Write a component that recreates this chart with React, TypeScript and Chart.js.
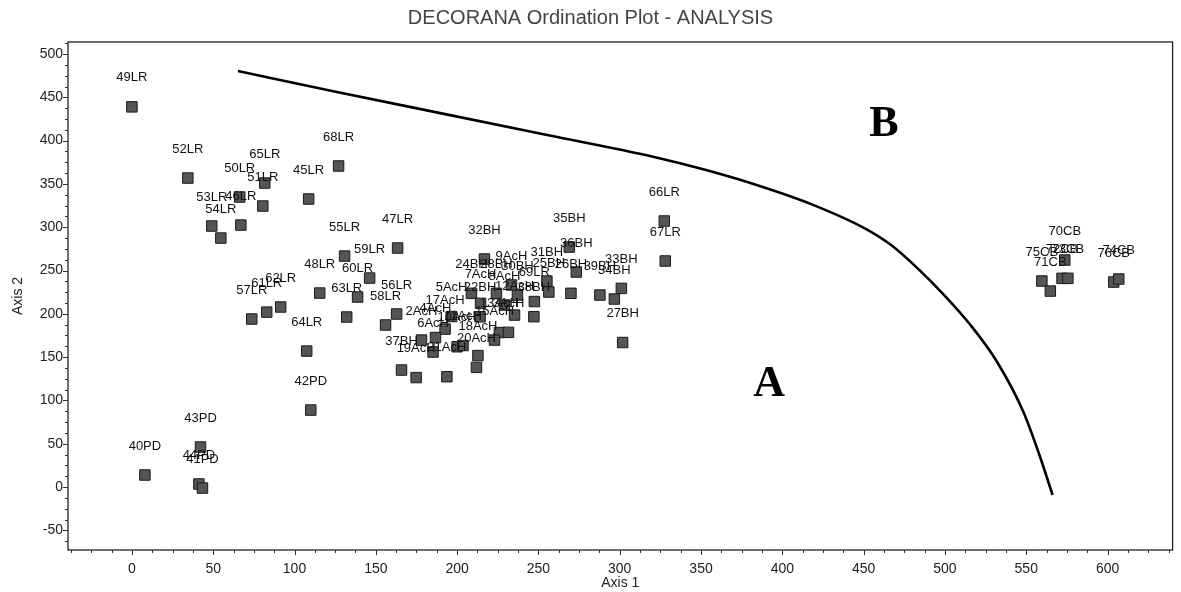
import React, { useEffect, useRef } from "react";
import { Chart, registerables } from "chart.js";

Chart.register(...registerables);

const chartTitle = "DECORANA Ordination Plot - ANALYSIS";
const xAxisTitle = "Axis 1";
const yAxisTitle = "Axis 2";

const sampleNames = [
  "49LR", "52LR", "65LR", "50LR", "51LR", "45LR", "68LR", "53LR", "46LR", "54LR",
  "55LR", "47LR", "59LR", "48LR", "60LR", "63LR", "56LR", "58LR", "62LR", "61LR",
  "57LR", "64LR", "42PD", "40PD", "43PD", "44PD", "41PD", "66LR", "67LR", "35BH",
  "36BH", "31BH", "25BH", "26BH", "39BH", "33BH", "34BH", "27BH", "32BH", "24BH",
  "28BH", "30BH", "9AcH", "69LR", "7AcH", "8AcH", "22BH", "5AcH", "12AcH", "38BH",
  "17AcH", "13AcH", "3AcH", "15AcH", "2AcH", "4AcH", "6AcH", "10AcH", "11AcH", "18AcH",
  "20AcH", "37BH", "19AcH", "21AcH", "70CB", "75CB", "71CB", "72CB", "73CB", "76CB",
  "74CB",
];
const axis1Scores = [
  0, 34.4, 81.7, 66.3, 80.5, 108.7, 127.1, 49.1, 67, 54.7,
  130.8, 163.4, 146.2, 115.5, 138.8, 132.1, 162.8, 156, 91.5, 82.9,
  73.7, 107.5, 110, 8, 42.2, 41.2, 43.4, 327.4, 328, 269,
  273.3, 255.2, 256.4, 270, 287.8, 301, 296.7, 301.8, 216.8, 208.8,
  224.2, 237.1, 233.4, 247.5, 214.4, 229.1, 214.1, 196.6, 235.3, 247.2,
  192.6, 226, 231.6, 223, 178.1, 186.7, 185.2, 200, 203.6, 212.8,
  211.9, 165.8, 174.8, 193.7, 573.7, 559.6, 564.8, 572, 575.6, 603.8,
  606.9,
];
const axis2Scores = [
  439, 356.8, 351, 334.9, 324.5, 332.6, 370.7, 301.4, 302.5, 287.5,
  266.7, 276, 241.3, 224, 219.4, 196.3, 199.8, 187.1, 207.9, 202,
  194, 157, 88.9, 13.9, 46.2, 3.5, -1.2, 307.2, 261, 277.1,
  248.3, 237.9, 225.2, 223.7, 221.7, 229.4, 217.1, 166.9, 263.3, 223.7,
  223.7, 221.7, 233.3, 214.2, 212.1, 210.2, 196.6, 196.9, 198.6, 196.7,
  182.4, 178.4, 178.6, 169.7, 169.7, 172.6, 155.9, 162, 163.4, 151.8,
  138.2, 135.1, 126.4, 127.4, 262.1, 237.9, 226.3, 241, 241, 236.7,
  240.2,
];

const boundaryX = [65.2, 125.3, 190.4, 255.4, 320.5, 353.1, 385.6, 418.1, 450.7, 466.9, 483.2, 499.5, 515.7, 532, 548.2, 558.1, 566.2];
const boundaryY = [480.4, 456.5, 431.5, 406.5, 381.4, 366, 347.9, 326.4, 298.7, 279.4, 252.5, 221.7, 187.1, 144.7, 87, 37, -9.2];

const regionNames = ["A", "B"];
const regionX = [391.9, 462.5];
const regionY = [117.8, 418];

const xMin = -39.3;
const xMax = 640;
const yMin = -72.7;
const yMax = 513.9;
const tickStep = 12.5;
const labelStep = 50;

export default function App() {
  const ref = useRef<HTMLCanvasElement | null>(null);

  useEffect(() => {
    document.body.style.margin = "0";
    const canvas = ref.current;
    if (!canvas) return;

    const makeTicks = (lo: number, hi: number) => {
      const arr: { value: number }[] = [];
      const start = Math.ceil(lo / tickStep) * tickStep;
      for (let v = start; v <= hi + 1e-9; v += tickStep) arr.push({ value: v });
      return arr;
    };

    const decorPlugin = {
      id: "decor",
      afterDraw(chart: any) {
        const ctx = chart.ctx as CanvasRenderingContext2D;
        const a = chart.chartArea;
        const xs = chart.scales.x;
        const ys = chart.scales.y;
        ctx.save();
        // frame
        ctx.strokeStyle = "#222";
        ctx.lineWidth = 1.3;
        ctx.strokeRect(a.left, a.top, a.right - a.left, a.bottom - a.top);
        // tick marks
        ctx.lineWidth = 1;
        ctx.strokeStyle = "#333";
        ctx.beginPath();
        for (const t of xs.ticks) {
          const px = Math.round(xs.getPixelForValue(t.value)) + 0.5;
          const major = Math.abs(t.value % labelStep) < 1e-6;
          ctx.moveTo(px, a.bottom);
          ctx.lineTo(px, a.bottom + (major ? 5 : 3));
        }
        for (const t of ys.ticks) {
          const py = Math.round(ys.getPixelForValue(t.value)) + 0.5;
          const major = Math.abs(t.value % labelStep) < 1e-6;
          ctx.moveTo(a.left, py);
          ctx.lineTo(a.left - (major ? 5 : 3), py);
        }
        ctx.stroke();

        // point labels
        const meta = chart.getDatasetMeta(1);
        ctx.fillStyle = "#111";
        ctx.font = "13px 'Liberation Sans', Arial, sans-serif";
        ctx.textAlign = "center";
        ctx.textBaseline = "middle";
        meta.data.forEach((el: any, i: number) => {
          ctx.fillText(sampleNames[i], el.x, el.y - 29);
        });

        // region letters
        ctx.font = "bold 44px 'Liberation Serif', 'Times New Roman', serif";
        ctx.fillStyle = "#000";
        regionNames.forEach((n, i) => {
          ctx.fillText(n, xs.getPixelForValue(regionX[i]), ys.getPixelForValue(regionY[i]));
        });

        // titles
        ctx.fillStyle = "#444";
        ctx.font = "20px 'Liberation Sans', Arial, sans-serif";
        ctx.fillText(chartTitle, chart.width / 2, 18);
        ctx.fillStyle = "#222";
        ctx.font = "14px 'Liberation Sans', Arial, sans-serif";
        ctx.fillText(xAxisTitle, (a.left + a.right) / 2, 583);
        ctx.translate(18, (a.top + a.bottom) / 2);
        ctx.rotate(-Math.PI / 2);
        ctx.fillText(yAxisTitle, 0, 0);
        ctx.restore();
      },
    };

    const chart = new Chart(canvas, {
      type: "scatter",
      data: {
        datasets: [
          {
            label: "boundary",
            data: boundaryX.map((x, i) => ({ x, y: boundaryY[i] })),
            showLine: true,
            borderColor: "#000",
            borderWidth: 2.6,
            pointRadius: 0,
            cubicInterpolationMode: "monotone",
            fill: false,
          },
          {
            label: "samples",
            data: axis1Scores.map((x, i) => ({ x, y: axis2Scores[i] })),
            pointStyle: "rect",
            pointRadius: 7.4,
            pointBackgroundColor: "#555555",
            pointBorderColor: "#1a1a1a",
            pointBorderWidth: 1,
            showLine: false,
          },
        ],
      },
      options: {
        responsive: false,
        animation: false,
        events: [],
        layout: { padding: { left: 0, right: 7, top: 42, bottom: 0 } },
        plugins: {
          legend: { display: false },
          title: { display: false },
          tooltip: { enabled: false },
        },
        scales: {
          x: {
            type: "linear",
            min: xMin,
            max: xMax,
            grid: { display: false, drawTicks: false },
            border: { display: false },
            afterBuildTicks: (s: any) => {
              s.ticks = makeTicks(xMin, xMax);
            },
            afterFit: (s: any) => {
              s.height = 42;
            },
            ticks: {
              autoSkip: false,
              maxRotation: 0,
              padding: 11,
              color: "#222",
              font: { family: "'Liberation Sans', Arial, sans-serif", size: 14 },
              callback: (v: any) => (Math.abs(Number(v) % labelStep) < 1e-6 ? String(Number(v)) : ""),
            },
          },
          y: {
            type: "linear",
            min: yMin,
            max: yMax,
            grid: { display: false, drawTicks: false },
            border: { display: false },
            afterBuildTicks: (s: any) => {
              s.ticks = makeTicks(yMin, yMax);
            },
            afterFit: (s: any) => {
              s.width = 68;
            },
            ticks: {
              autoSkip: false,
              padding: 5,
              color: "#222",
              font: { family: "'Liberation Sans', Arial, sans-serif", size: 14 },
              callback: (v: any) => (Math.abs(Number(v) % labelStep) < 1e-6 ? String(Number(v)) : ""),
            },
          },
        },
      },
      plugins: [decorPlugin],
    });

    return () => chart.destroy();
  }, []);

  return (
    <div style={{ width: 1181, height: 592, background: "#fff" }}>
      <canvas ref={ref} width={1181} height={592} style={{ display: "block" }} />
    </div>
  );
}
